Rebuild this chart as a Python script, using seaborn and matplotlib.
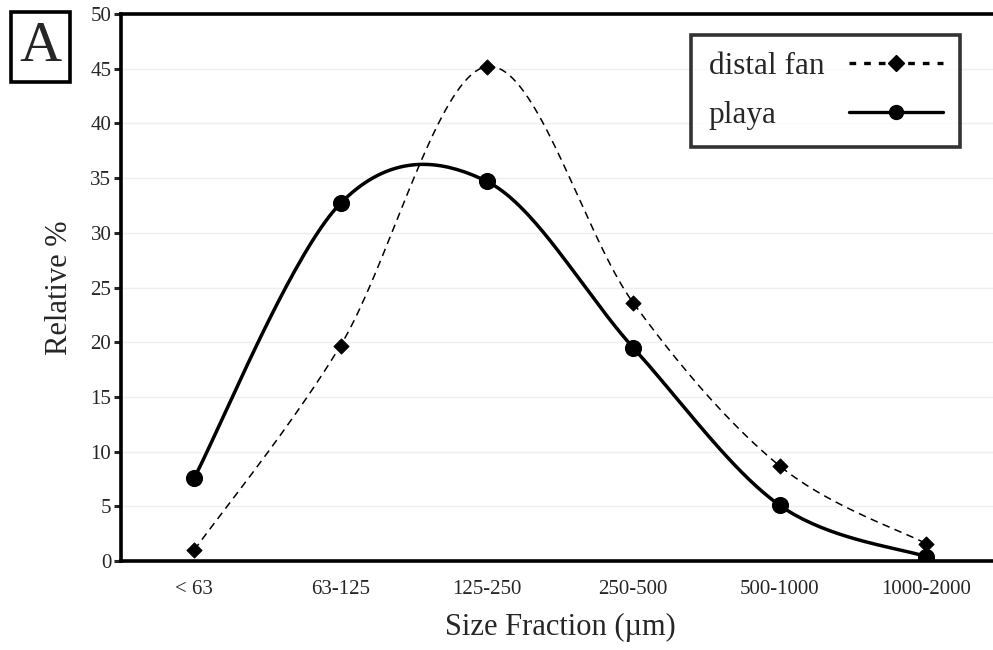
import numpy as np
import pandas as pd
import matplotlib
matplotlib.use('Agg')
import matplotlib.pyplot as plt
from matplotlib.lines import Line2D
from matplotlib.ticker import MultipleLocator, FixedLocator
import seaborn as sns

# values
fractions = ['< 63', '63-125', '125-250', '250-500', '500-1000', '1000-2000']
distal_fan = [1.0, 19.7, 45.2, 23.6, 8.7, 1.6]
playa = [7.6, 32.7, 34.7, 19.5, 5.1, 0.4]

sns.set_style('white')
plt.rcParams['font.family'] = ['Liberation Serif', 'DejaVu Serif']


def smooth(ys, n=40):
    # excel style smoothed line (catmull-rom as bezier) through the points
    pts = np.column_stack([np.arange(len(ys), dtype=float), np.asarray(ys, float)])
    out = []
    for i in range(len(pts) - 1):
        p0 = pts[max(i - 1, 0)]
        p1, p2 = pts[i], pts[i + 1]
        p3 = pts[min(i + 2, len(pts) - 1)]
        c1 = p1 + (p2 - p0) / 6
        c2 = p2 - (p3 - p1) / 6
        t = np.linspace(0, 1, n)[:, None]
        seg = ((1 - t) ** 3 * p1 + 3 * (1 - t) ** 2 * t * c1
               + 3 * (1 - t) * t ** 2 * c2 + t ** 3 * p2)
        out.append(seg if i == 0 else seg[1:])
    seg = np.vstack(out)
    return pd.DataFrame({'x': seg[:, 0], 'y': seg[:, 1]})


df = pd.DataFrame({'x': np.arange(len(fractions)), 'distal': distal_fan, 'playa': playa})

fig = plt.figure(figsize=(9.93, 6.5), dpi=100)
ax = fig.add_axes([0.1219, 0.1369, 0.8842, 0.8415])

# curves
sd = smooth(distal_fan)
sp = smooth(playa)
sns.lineplot(data=sd, x='x', y='y', ax=ax, color='black', lw=1.1,
             linestyle=(0, (5, 3.5)), sort=False, zorder=3)
sns.lineplot(data=sp, x='x', y='y', ax=ax, color='black', lw=2.5,
             sort=False, zorder=4)
sns.scatterplot(data=df, x='x', y='distal', ax=ax, marker='D', s=60,
                color='black', edgecolor='black', zorder=5)
sns.scatterplot(data=df, x='x', y='playa', ax=ax, marker='o', s=130,
                color='black', edgecolor='black', zorder=6)

ax.set_xlim(-0.5, 5.5)
ax.set_ylim(0, 50)
ax.yaxis.set_major_locator(MultipleLocator(5))
ax.set_xticks(range(len(fractions)))
ax.set_xticklabels(fractions)
ax.xaxis.set_minor_locator(FixedLocator(np.arange(-0.5, 6, 1)))
ax.tick_params(axis='x', which='major', length=0, pad=14, labelsize=15)
ax.tick_params(axis='x', which='minor', length=7, width=2.2, direction='out')
ax.tick_params(axis='y', which='major', length=5, width=2.2, direction='out',
               pad=2, labelsize=15, left=True)
ax.grid(axis='y', color='#efefef', lw=1)
ax.set_axisbelow(True)

for s in ['left', 'bottom', 'top']:
    ax.spines[s].set_linewidth(2.6)
    ax.spines[s].set_color('black')
ax.spines['right'].set_visible(False)

ax.set_xlabel('Size Fraction (µm)', fontsize=22, labelpad=10)
ax.set_ylabel('Relative %', fontsize=22, labelpad=12)

handles = [
    Line2D([], [], color='black', lw=2.4, linestyle=(0, (2.0, 2.4)),
           marker='D', markersize=8),
    Line2D([], [], color='black', lw=2.4, marker='o', markersize=10),
]
leg = ax.legend(handles, ['distal fan', 'playa'], loc='upper right',
                bbox_to_anchor=(0.9556, 0.9616), markerfirst=False,
                handlelength=3.0, fontsize=22.5, frameon=True, fancybox=False,
                borderpad=0.55, labelspacing=0.62, handletextpad=0.8,
                borderaxespad=0)
leg.get_frame().set_edgecolor('black')
leg.get_frame().set_linewidth(2.6)

# left-align the legend labels while keeping the handles lined up on the right
fig.canvas.draw()
r = fig.canvas.get_renderer()
w = [t.get_window_extent(r).width for t in leg.get_texts()]
col = leg._legend_handle_box.get_children()[0]
for row, wi in zip(col.get_children(), w):
    row.sep += (max(w) - wi) * 72 / fig.dpi

fig.text(0.0408, 0.9275, 'A', fontsize=42, ha='center', va='center',
         bbox=dict(boxstyle='square,pad=0.15', fc='white', ec='black', lw=2.6))

fig.savefig('out.png', dpi=100)
